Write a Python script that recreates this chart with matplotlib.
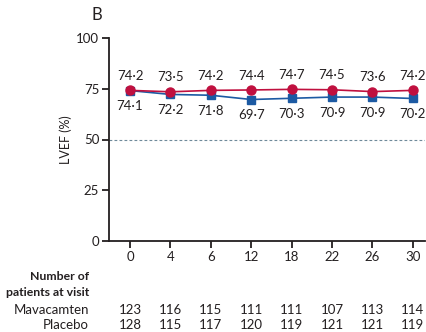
import matplotlib
matplotlib.use("Agg")
import matplotlib.pyplot as plt

# week of visit (shown evenly spaced)
weeks = ["0", "4", "6", "12", "18", "22", "26", "30"]
mava_lvef = [74.2, 73.5, 74.2, 74.4, 74.7, 74.5, 73.6, 74.2]
placebo_lvef = [74.1, 72.2, 71.8, 69.7, 70.3, 70.9, 70.9, 70.2]
mava_n = [123, 116, 115, 111, 111, 107, 113, 114]
placebo_n = [128, 115, 117, 120, 119, 121, 121, 119]
yticks = [0, 25, 50, 75, 100]

RED = "#c0103f"
BLUE = "#1c5aa3"
TXT = "#231f20"
FS = 9.5

plt.rcParams["font.family"] = ["Lato", "DejaVu Sans"]
plt.rcParams["font.size"] = FS


def fmt(v):
    return f"{v:.1f}".replace(".", "\u00b7")


fig = plt.figure(figsize=(4.27, 3.32), dpi=100)
ax = fig.add_axes([109 / 427, 1 - 241 / 332, 316 / 427, 203 / 332])

x = list(range(len(weeks)))
ax.axhline(50, color="#6f8a9a", lw=0.8, ls=(0, (2.5, 2)), zorder=1)
ax.plot(x, placebo_lvef, color=BLUE, lw=1.2, marker="s", ms=5.5, zorder=3)
ax.plot(x, mava_lvef, color=RED, lw=1.2, marker="o", ms=6.5, zorder=4)

for xi, m, p in zip(x, mava_lvef, placebo_lvef):
    ax.annotate(fmt(m), (xi, m), xytext=(0, 6), textcoords="offset points",
                ha="center", va="bottom", color=TXT, fontsize=FS)
    ax.annotate(fmt(p), (xi, p), xytext=(0, -7), textcoords="offset points",
                ha="center", va="top", color=TXT, fontsize=FS)

ax.set_xlim(-0.52, 7.3)
ax.set_ylim(0, 100)
ax.set_xticks(x)
ax.set_xticklabels(weeks)
ax.set_yticks(yticks)
for s in ["top", "right"]:
    ax.spines[s].set_visible(False)
for s in ["left", "bottom"]:
    ax.spines[s].set_linewidth(1.3)
    ax.spines[s].set_color(TXT)
ax.tick_params(length=5, width=1.3, color=TXT, labelcolor=TXT, pad=2)
ax.set_ylabel("LVEF (%)", color=TXT, fontsize=9, labelpad=3)

fig.text(97 / 427, 1 - 15 / 332, "B", fontsize=12, ha="center", va="center", color=TXT)

# numbers at risk table
tx = 89 / 427
fig.text(tx, 1 - 277 / 332, "Number of", ha="right", va="center",
         fontweight="bold", color=TXT, fontsize=8.8)
fig.text(tx, 1 - 292 / 332, "patients at visit", ha="right", va="center",
         fontweight="bold", color=TXT, fontsize=8.8)
fig.text(tx, 1 - 310 / 332, "Mavacamten", ha="right", va="center", color=TXT, fontsize=FS)
fig.text(tx, 1 - 325 / 332, "Placebo", ha="right", va="center", color=TXT, fontsize=FS)
for xi, a, b in zip(x, mava_n, placebo_n):
    ax.annotate(str(a), (xi, 0), xycoords=("data", "axes fraction"),
                xytext=(0, -(310 - 241) * 0.72), textcoords="offset points",
                ha="center", va="center", color=TXT, fontsize=FS, annotation_clip=False)
    ax.annotate(str(b), (xi, 0), xycoords=("data", "axes fraction"),
                xytext=(0, -(325 - 241) * 0.72), textcoords="offset points",
                ha="center", va="center", color=TXT, fontsize=FS, annotation_clip=False)

fig.savefig("out.png", dpi=100)
